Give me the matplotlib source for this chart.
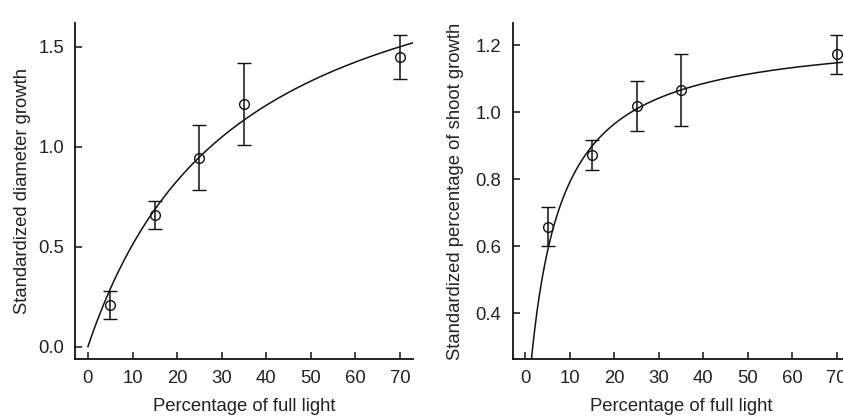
import numpy as np
import matplotlib
matplotlib.use("Agg")
import matplotlib.pyplot as plt

plt.rcParams['font.family'] = ['Liberation Sans', 'DejaVu Sans']

# Data
light = [5, 15, 25, 35, 70]
diam_mean = [0.21, 0.66, 0.945, 1.215, 1.452]
diam_err = [0.07, 0.07, 0.163, 0.204, 0.11]
shoot_mean = [0.658, 0.872, 1.018, 1.067, 1.173]
shoot_err = [0.058, 0.044, 0.074, 0.107, 0.058]

# Fitted curve parameters (hyperbolic fits)
diam_fit = dict(a=2.22, b=33.5, c=0.0)
shoot_fit = dict(a=1.20, b=6.0, c=0.042)

xticks = [0, 10, 20, 30, 40, 50, 60, 70]

fig = plt.figure(figsize=(8.43, 4.17), dpi=100)
ax1 = fig.add_axes([75/843, 1-359/417, (413-75)/843, (359-23)/417])
ax2 = fig.add_axes([512.5/843, 1-359/417, (849.7-512.5)/843, (359-23)/417])

txtc = '#222222'
fs = 13.3

def style(ax):
    for s in ['top', 'right']:
        ax.spines[s].set_visible(False)
    for s in ['left', 'bottom']:
        ax.spines[s].set_linewidth(1.3)
        ax.spines[s].set_color('#111111')
    ax.tick_params(direction='in', length=5, width=1.1, labelsize=fs,
                   labelcolor=txtc, color='#111111', pad=8)
    ax.set_xticks(xticks)
    ax.set_xlim(-2.9, 72.9)
    ax.set_xlabel('Percentage of full light', fontsize=fs, color=txtc, labelpad=8)

def curve(ax, p, x0):
    xs = np.linspace(x0, 72.9, 400)
    ys = p['a'] * xs / (p['b'] + xs) + p['c']
    ax.plot(xs, ys, color='#111111', lw=1.1, clip_on=True)

style(ax1)
curve(ax1, diam_fit, 0.0)
ax1.errorbar(light, diam_mean, yerr=diam_err, fmt='o', mfc='none', mec='#111111',
             ms=7, mew=1.0, ecolor='#111111', elinewidth=1.1, capsize=5, capthick=1.1)
ax1.set_ylim(-0.062, 1.62)
ax1.set_yticks([0.0, 0.5, 1.0, 1.5])
ax1.set_yticklabels(['0.0', '0.5', '1.0', '1.5'])
ax1.set_ylabel('Standardized diameter growth', fontsize=fs, color=txtc, labelpad=5)

style(ax2)
curve(ax2, shoot_fit, 0.5)
ax2.errorbar(light, shoot_mean, yerr=shoot_err, fmt='o', mfc='none', mec='#111111',
             ms=7, mew=1.0, ecolor='#111111', elinewidth=1.1, capsize=5, capthick=1.1,
             clip_on=False)
ax2.set_ylim(0.264, 1.266)
ax2.set_yticks([0.4, 0.6, 0.8, 1.0, 1.2])
ax2.set_yticklabels(['0.4', '0.6', '0.8', '1.0', '1.2'])
ax2.set_ylabel('Standardized percentage of shoot growth', fontsize=fs, color=txtc, labelpad=8)

fig.savefig('out.png', dpi=100)
